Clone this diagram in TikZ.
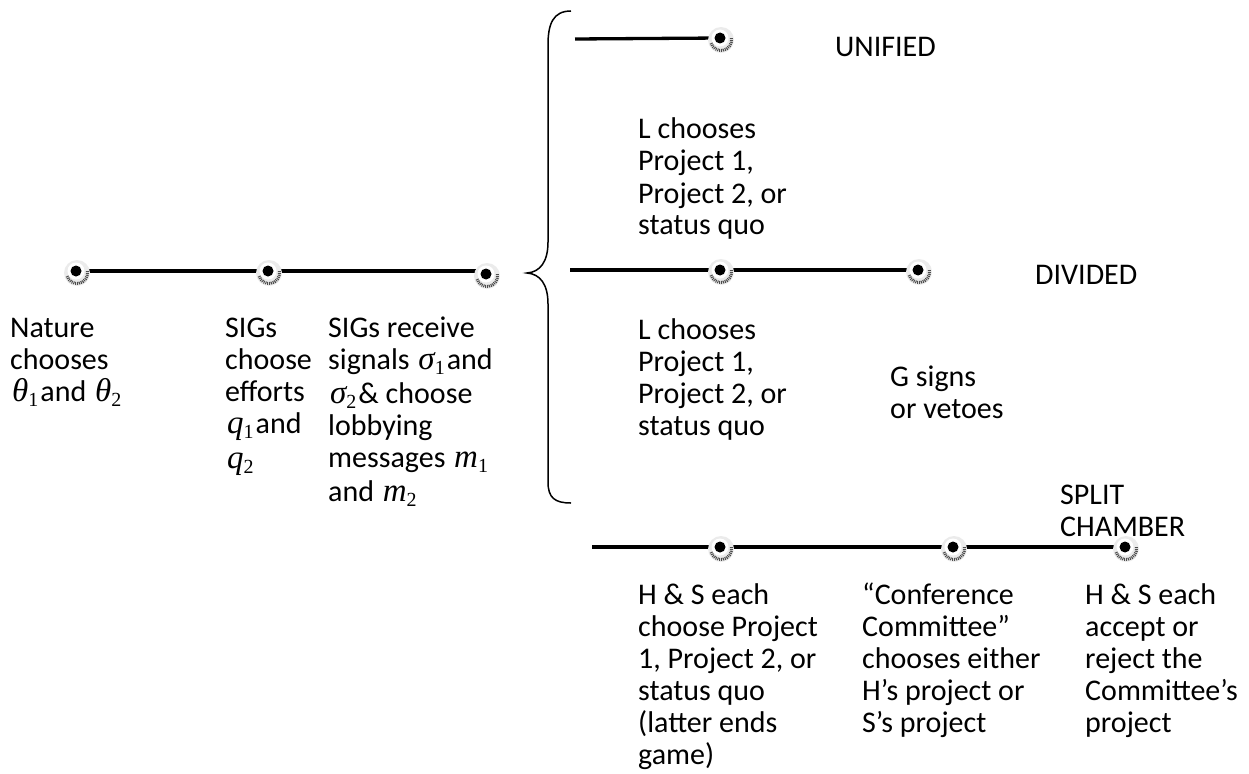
\documentclass[tikz,border=0pt]{standalone}
\usepackage{fontspec}
\usetikzlibrary{calc}
\setmainfont{Carlito}
\newfontfamily\tms{Liberation Serif}
\newcommand\mv[2]{\hspace{2pt}{\tms\itshape\fontsize{33}{33}\selectfont #1}\raisebox{-5pt}{\tms\fontsize{20}{20}\selectfont #2}\hspace{2pt}}
\newcommand\txtfont{\fontsize{30}{32}\selectfont}
\newcommand\ml[1]{\begin{tabular}[t]{@{}l@{}}#1\end{tabular}}
\pgfdeclarelayer{bg}
\pgfsetlayers{bg,main}
\begin{document}
\begin{tikzpicture}[x=1pt,y=-1pt,
  lbl/.style={anchor=base west, inner sep=0pt, font=\txtfont},
  dotnode/.style={circle, fill=black, inner sep=0pt, minimum size=11pt},
  halo/.style={fill=gray!16},
  haloedge/.style={draw=black!70, line width=3pt, dash pattern=on 1pt off 0.9pt},
  seg/.style={line width=3.3pt, draw=black},
  brace/.style={line width=1.5pt, draw=black}]
\useasboundingbox (0,0) rectangle (1249,773);
% dot positions
\coordinate (p1) at (76,271);
\coordinate (p2) at (268,271);
\coordinate (p3) at (486,274);
\coordinate (u1) at (720,38);
\coordinate (v1) at (720,270);
\coordinate (v2) at (918,270);
\coordinate (s1) at (720,547);
\coordinate (s2) at (953,547);
\coordinate (s3) at (1125,547);
\foreach \p in {p1,p2,p3,u1,v1,v2,s1,s2,s3}{
  \fill[halo] ($(\p)+(1,2)$) circle (13);
  \fill[white] (\p) circle (8.5);
  \draw[haloedge] ($(\p)+(1,2)$) ++(-10:10.5) arc (-10:165:10.5);
}
\node[dotnode] (d1) at (p1) {};
\node[dotnode] (d2) at (p2) {};
\node[dotnode] (d3) at (p3) {};
\node[dotnode] (du) at (u1) {};
\node[dotnode] (dv1) at (v1) {};
\node[dotnode] (dv2) at (v2) {};
\node[dotnode] (ds1) at (s1) {};
\node[dotnode] (ds2) at (s2) {};
\node[dotnode] (ds3) at (s3) {};
\coordinate (ustart) at (575,39);
\coordinate (vstart) at (570,270);
\coordinate (sstart) at (592,547);
\begin{pgfonlayer}{bg}
\draw[seg] (d1) -- (d2) -- (d2 -| d3);
\draw[seg] (ustart) -- (du);
\draw[seg] (vstart) -- (dv1) -- (dv2);
\draw[seg] (sstart) -- (ds1) -- (ds2) -- (ds3);
\end{pgfonlayer}
% brace
\draw[brace] (571,11) .. controls (553,11) and (548,24) .. (548,45) -- (548,242)
  .. controls (548,262) and (540,272) .. (527,273)
  .. controls (540,274) and (548,284) .. (548,304) -- (548,482)
  .. controls (548,498) and (555,503) .. (571,503);
% labels
\node[lbl] (t1) at (10,337) {\ml{Nature\\chooses\\\mv{θ}{1}and \mv{θ}{2}}};
\node[lbl] (t2) at (225,337) {\ml{SIGs\\choose\\efforts\\\mv{q}{1}and\\[3pt]\mv{q}{2}}};
\node[lbl] (t3) at (328,337) {\ml{SIGs receive\\signals \mv{σ}{1}and\\[2pt]\mv{σ}{2}\& choose\\lobbying\\messages \mv{m}{1}\\[2pt]and \mv{m}{2}}};
\node[lbl] (uni) at (835,57) {UNIFIED};
\node[lbl] (t4) at (638,139) {\ml{L chooses\\Project 1,\\Project 2, or\\status quo}};
\node[lbl] (div) at (1035,284) {DIVIDED};
\node[lbl] (t5) at (638,339) {\ml{L chooses\\Project 1,\\Project 2, or\\status quo}};
\node[lbl] (t6) at (890,386) {\ml{G signs\\or vetoes}};
\node[lbl] (spl) at (1060,504) {\ml{SPLIT\\CHAMBER}};
\node[lbl] (t7) at (638,604) {\ml{H \& S each\\choose Project\\1, Project 2, or\\status quo\\(latter ends\\game)}};
\node[lbl] (t8) at (862,604) {\ml{“Conference\\Committee”\\chooses either\\H’s project or\\S’s project}};
\node[lbl] (t9) at (1085,604) {\ml{H \& S each\\accept or\\reject the\\Committee’s\\project}};
\end{tikzpicture}
\end{document}
